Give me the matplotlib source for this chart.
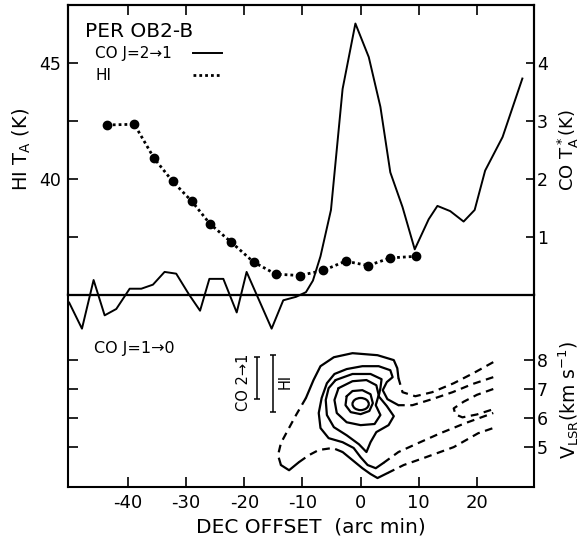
import matplotlib
matplotlib.use("Agg")
import matplotlib.pyplot as plt
from matplotlib.lines import Line2D
from matplotlib.patches import Ellipse

plt.rcParams['font.family'] = ['DejaVu Sans']
plt.rcParams['axes.unicode_minus'] = False
plt.rcParams['mathtext.default'] = 'regular'

# ---------------- data ----------------
# HI antenna temperature (K) vs DEC offset (arcmin)
hi_offset = [-43.6, -38.9, -35.5, -32.3, -29.0, -25.9, -22.2, -18.4, -14.6,
             -10.5, -6.4, -2.6, 1.3, 5.1, 9.6]
hi_ta = [42.32, 42.35, 40.88, 39.88, 39.02, 38.05, 37.25, 36.40, 35.88,
         35.82, 36.04, 36.44, 36.25, 36.58, 36.65]

# CO J=2-1 antenna temperature (K) vs DEC offset (arcmin)
co21_offset = [-50.1, -47.9, -45.9, -44.0, -42.0, -39.7, -37.7, -35.7, -33.7,
               -31.7, -29.5, -27.6, -26.0, -23.6, -21.3, -19.6, -15.3, -13.3,
               -11.1, -9.4, -8.2, -6.9, -5.1, -3.1, -0.9, 1.4, 3.4, 5.1, 7.2,
               9.3, 11.7, 13.2, 15.4, 17.7, 19.6, 21.4, 24.4, 27.8]
co21_ta = [-0.14, -0.59, 0.25, -0.36, -0.25, 0.10, 0.10, 0.17, 0.39,
           0.36, 0.0, -0.28, 0.27, 0.27, -0.31, 0.39, -0.59, -0.10,
           -0.04, 0.04, 0.24, 0.66, 1.46, 3.55, 4.68, 4.10, 3.24, 2.11, 1.51,
           0.78, 1.30, 1.53, 1.44, 1.26, 1.46, 2.14, 2.72, 3.73]

# CO J=1-0 position-velocity contours (offset arcmin, V_LSR km/s)
c1_x = [22.8, 19.4, 16.0, 12.3, 9.4, 7.2, 6.5, 6.3, 5.7, 2.9, -1.4, -4.6, -6.9,
        -8.1, -9.4, -11.1, -12.5, -13.7, -14.2, -13.7, -12.3, -10.6, -8.9,
        -7.2, -4.8, -3.1, -1.4, 0.3, 1.7, 2.9, 4.6, 7.4, 10.8, 16.0, 20.2, 22.8]
c1_v = [7.93, 7.55, 7.20, 6.89, 6.75, 6.89, 7.38, 7.72, 8.00, 8.17, 8.24, 8.10,
        7.79, 7.31, 6.69, 6.10, 5.58, 5.13, 4.71, 4.37, 4.19, 4.47, 4.71,
        4.89, 4.96, 4.82, 4.54, 4.26, 4.06, 3.92, 4.09, 4.37, 4.61, 4.99, 5.47, 5.65]
c1_seg = [(0, 6, '--'), (6, 14, '-'), (14, 19, '--'), (19, 21, '-'),
          (21, 25, '--'), (25, 30, '-'), (30, 35, '--')]

c2_x = [22.8, 19.2, 15.8, 12.3, 8.9, 6.5, 4.6, 3.8, 4.5, 5.5, 5.1, 3.1, 0.3,
        -2.4, -4.5, -5.8, -6.7, -7.2, -6.9, -5.5, -3.1, -1.2, 0.0, 1.2, 2.6,
        3.9, 6.5, 9.9, 13.7, 18.0, 22.8]
c2_v = [7.41, 7.17, 6.89, 6.65, 6.44, 6.44, 6.65, 6.96, 7.24, 7.41, 7.65, 7.79,
        7.79, 7.69, 7.52, 7.20, 6.69, 6.17, 5.65, 5.30, 5.16, 4.96, 4.64, 4.37,
        4.26, 4.44, 4.82, 5.13, 5.47, 5.82, 6.17]
c2_seg = [(0, 5, '--'), (5, 25, '-'), (25, 30, '--')]

c3_x = [-4.3, -1.4, 1.7, 3.6, 3.4, 3.1, 4.5, 5.7, 4.8, 2.7, 1.7, 1.0, -0.3,
        -2.4, -4.6, -5.8, -6.0, -5.5, -4.3]
c3_v = [7.31, 7.52, 7.52, 7.34, 7.03, 6.75, 6.41, 6.06, 5.75, 5.51, 5.16, 4.82,
        5.09, 5.40, 5.68, 6.10, 6.62, 7.03, 7.31]
c3_seg = [(0, 18, '-')]

c4_x = [-3.8, -1.4, 1.0, 2.7, 3.1, 2.6, 3.4, 2.4, 0.0, -2.4, -4.1, -4.5, -3.8]
c4_v = [7.03, 7.27, 7.31, 7.13, 6.79, 6.44, 6.10, 5.79, 5.75, 5.85, 6.17, 6.62, 7.03]
c4_seg = [(0, 12, '-')]

c5_x = [-2.4, -1.4, 0.3, 1.7, 2.1, 1.5, 0.0, -1.7, -2.6, -2.4]
c5_v = [6.75, 6.93, 6.96, 6.82, 6.51, 6.24, 6.13, 6.20, 6.44, 6.75]
c5_seg = [(0, 9, '-')]

c6_x = [22.8, 20.0, 17.7, 16.0, 16.3, 17.5, 20.0, 22.8]
c6_v = [7.00, 6.80, 6.56, 6.33, 6.12, 6.02, 6.12, 6.30]
c6_seg = [(0, 7, '--')]

# innermost peak contour: centre and extent (arcmin, km/s)
peak_x, peak_v, peak_w, peak_h = 0.0, 6.48, 2.8, 0.42

# velocity resolution bars
res_x = [-17.8, -15.0]
res_center = [7.38, 7.18]
res_half = [0.72, 0.98]

# ---------------- figure ----------------
fig = plt.figure(figsize=(5.83, 5.44), dpi=100)
L, W = 68 / 583, 466 / 583
ax_hi = fig.add_axes([L, 1 - 294.5 / 544, W, 289.5 / 544])
ax_co = ax_hi.twinx()
ax_v = fig.add_axes([L, 1 - 487 / 544, W, 192.5 / 544])
ax_v.patch.set_visible(False)

xlim = (-50.3, 29.8)
xt = [-40, -30, -20, -10, 0, 10, 20]

for a in (ax_hi, ax_co, ax_v):
    for s in a.spines.values():
        s.set_linewidth(1.5)
    a.set_xlim(*xlim)

# top panel
ax_hi.plot(hi_offset, hi_ta, color='k', lw=2, ls=(0, (1, 1.1)),
           marker='o', ms=6)
ax_hi.set_ylim(35, 47.5)
ax_hi.set_yticks([37.5, 40, 42.5, 45])
ax_hi.set_yticklabels(['', '40', '', '45'])
ax_hi.set_xticks(xt)
ax_hi.tick_params(axis='x', bottom=False, top=True, labelbottom=False,
                  direction='in', length=7, width=1.2)
ax_hi.tick_params(axis='y', direction='in', length=7, width=1.2,
                  labelsize=12.5, pad=5)
ax_hi.set_ylabel('HI T$_A$ (K)', fontsize=14)
ax_hi.yaxis.set_label_coords(-0.075, 0.5)

ax_co.plot(co21_offset, co21_ta, color='k', lw=1.4, clip_on=False)
ax_co.set_ylim(0, 5)
ax_co.set_yticks([1, 2, 3, 4])
ax_co.tick_params(axis='y', direction='in', length=6, width=1.2,
                  labelsize=12.5, pad=2)
ax_co.set_ylabel('CO T$_A^*$(K)', fontsize=13)
ax_co.yaxis.set_label_coords(1.046, 0.5)

ax_hi.text(0.036, 0.908, 'PER OB2-B', transform=ax_hi.transAxes,
           fontsize=14.5, va='center', ha='left')
ax_hi.text(0.058, 0.831, 'CO J=2\u21921', transform=ax_hi.transAxes,
           fontsize=11, va='center', ha='left')
ax_hi.text(0.058, 0.755, 'HI', transform=ax_hi.transAxes,
           fontsize=11, va='center', ha='left')
ax_hi.add_line(Line2D([0.268, 0.330], [0.834, 0.834], transform=ax_hi.transAxes,
                      color='k', lw=1.4))
ax_hi.add_line(Line2D([0.268, 0.330], [0.758, 0.758], transform=ax_hi.transAxes,
                      color='k', lw=2, ls=(0, (1, 1.1))))

# bottom panel
for xs, vs, segs in ((c1_x, c1_v, c1_seg), (c2_x, c2_v, c2_seg),
                     (c3_x, c3_v, c3_seg), (c4_x, c4_v, c4_seg),
                     (c5_x, c5_v, c5_seg), (c6_x, c6_v, c6_seg)):
    for i0, i1, ls in segs:
        style = ls if ls == '-' else (0, (3.5, 2.5))
        ax_v.plot(xs[i0:i1 + 1], vs[i0:i1 + 1], color='k', lw=1.6, ls=style,
                  solid_capstyle='round', solid_joinstyle='round')
ax_v.add_patch(Ellipse((peak_x, peak_v), peak_w, peak_h, fill=False,
                       ec='k', lw=1.6))

ax_v.errorbar(res_x, res_center, yerr=res_half, fmt='none', ecolor='k',
              elinewidth=1.1, capsize=2.5, capthick=1.1)
ax_v.text(-20.1, 7.24, 'CO 2\u21921', rotation=90, fontsize=10.5,
          ha='center', va='center')
ax_v.text(-13.0, 7.27, 'HI', rotation=90, fontsize=10.5,
          ha='center', va='center')
ax_v.text(0.056, 0.717, 'CO J=1\u21920', transform=ax_v.transAxes,
          fontsize=11.5, va='center', ha='left')

ax_v.set_ylim(3.61, 10.27)
ax_v.set_yticks([5, 6, 7, 8])
ax_v.set_xticks(xt)
ax_v.tick_params(axis='x', direction='in', length=7, width=1.2,
                 labelsize=13, pad=5)
ax_v.tick_params(axis='y', direction='in', length=7, width=1.2, left=True,
                 right=True, labelleft=False, labelright=True, labelsize=12.5,
                 pad=2)
ax_v.set_xlabel('DEC OFFSET  (arc min)', fontsize=14.5)
ax_v.xaxis.set_label_coords(0.521, -0.16)
ax_v.yaxis.set_label_position('right')
ax_v.set_ylabel('V$_{LSR}$(km s$^{-1}$)', fontsize=13.5)
ax_v.yaxis.set_label_coords(1.048, 0.45)

fig.savefig('out.png', dpi=100)
